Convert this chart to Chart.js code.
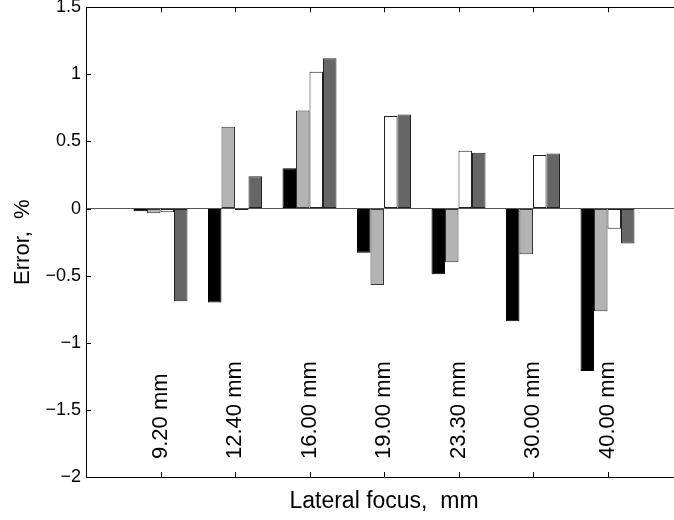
<!DOCTYPE html>
<html lang="en">
<head>
<meta charset="UTF-8">
<title>Lateral focus error</title>
<style>
    html, body {
        margin: 0;
        padding: 0;
        background: #fff;
        overflow: hidden;
    }
    /* the plot box runs past the right edge of the window, like the reference */
    .chart-box {
        width: 690px;
        height: 520px;
    }
</style>
</head>
<body>
<div class="chart-box"><canvas id="errChart" width="690" height="520"></canvas></div>

<script src="https://cdn.jsdelivr.net/npm/chart.js"></script>
<script>
    // Data
    var focusLabels = ['9.20 mm', '12.40 mm', '16.00 mm', '19.00 mm', '23.30 mm', '30.00 mm', '40.00 mm'];
    var errBlack = [-0.02, -0.70, 0.30, -0.33, -0.49, -0.84, -1.21];
    var errLight = [-0.035, 0.61, 0.73, -0.57, -0.40, -0.34, -0.765];
    var errWhite = [-0.027, -0.01, 1.02, 0.69, 0.43, 0.40, -0.15];
    var errDark = [-0.69, 0.24, 1.12, 0.70, 0.415, 0.41, -0.26];

    var FONT = '"Liberation Sans", Arial, sans-serif';

    function toPoints(values) {
        return values.map(function (v, i) {
            return { x: i + 1, y: v };
        });
    }

    function barSet(name, values, fill, edge) {
        return {
            label: name,
            data: toPoints(values),
            backgroundColor: fill,
            borderColor: edge,
            borderWidth: 1,
            borderSkipped: false,
            categoryPercentage: 0.725,
            barPercentage: 1.0
        };
    }

    // top frame line, inward tick marks and the rotated labels inside the plot
    var axisFrame = {
        id: 'axisFrame',
        afterDraw: function (chart) {
            var ctx = chart.ctx;
            var a = chart.chartArea;
            var xs = chart.scales.x;
            var ys = chart.scales.y;

            ctx.save();
            ctx.strokeStyle = '#000';
            ctx.lineWidth = 1;
            ctx.beginPath();
            ctx.moveTo(a.left, Math.round(a.top) + 0.5);
            ctx.lineTo(a.right, Math.round(a.top) + 0.5);
            ys.ticks.forEach(function (t) {
                var py = Math.round(ys.getPixelForValue(t.value)) + 0.5;
                ctx.moveTo(a.left, py);
                ctx.lineTo(a.left + 5, py);
            });
            focusLabels.forEach(function (lab, i) {
                var px = Math.round(xs.getPixelForValue(i + 1)) + 0.5;
                ctx.moveTo(px, a.top);
                ctx.lineTo(px, a.top + 5);
                ctx.moveTo(px, a.bottom);
                ctx.lineTo(px, a.bottom - 5);
            });
            ctx.stroke();

            ctx.fillStyle = '#000';
            ctx.font = '22px ' + FONT;
            ctx.textAlign = 'left';
            ctx.textBaseline = 'middle';
            focusLabels.forEach(function (lab, i) {
                ctx.save();
                ctx.translate(xs.getPixelForValue(i + 1), a.bottom - 18);
                ctx.rotate(-Math.PI / 2);
                ctx.fillText(lab, 0, 0);
                ctx.restore();
            });
            ctx.restore();
        }
    };

    var chart = new Chart(document.getElementById('errChart'), {
        type: 'bar',
        data: {
            datasets: [
                barSet('A', errBlack, '#000000', '#000000'),
                barSet('B', errLight, '#b3b3b3', '#333333'),
                barSet('C', errWhite, '#ffffff', '#222222'),
                barSet('D', errDark, '#666666', '#222222')
            ]
        },
        options: {
            responsive: false,
            animation: false,
            layout: {
                padding: { top: 0, right: 8, left: 0, bottom: 0 }
            },
            plugins: {
                legend: { display: false },
                tooltip: { enabled: false }
            },
            scales: {
                x: {
                    type: 'linear',
                    position: 'bottom',
                    offset: false,
                    min: 0,
                    max: 8,
                    ticks: { display: false, stepSize: 1 },
                    grid: { display: false, offset: false },
                    border: { display: true, color: '#000', width: 1 },
                    title: {
                        display: true,
                        text: 'Lateral focus,  mm',
                        color: '#000',
                        font: { family: FONT, size: 23 },
                        padding: { top: 0, bottom: 5 }
                    },
                    afterFit: function (s) { s.height = 43; }
                },
                y: {
                    min: -2,
                    max: 1.5,
                    ticks: {
                        stepSize: 0.5,
                        padding: 5,
                        color: '#000',
                        font: { family: FONT, size: 18, lineHeight: 0.25 },
                        callback: function (v) {
                            return String(v).replace('-', '\u2212');
                        }
                    },
                    grid: {
                        drawTicks: false,
                        color: function (c) {
                            return c.tick && c.tick.value === 0 ? '#555' : 'rgba(0,0,0,0)';
                        }
                    },
                    border: { display: true, color: '#000', width: 1 },
                    title: {
                        display: true,
                        text: 'Error,  %',
                        color: '#000',
                        font: { family: FONT, size: 22 },
                        padding: { top: 10, bottom: 0 }
                    },
                    afterFit: function (s) { s.width = 86; }
                }
            }
        },
        plugins: [axisFrame]
    });
</script>
</body>
</html>
